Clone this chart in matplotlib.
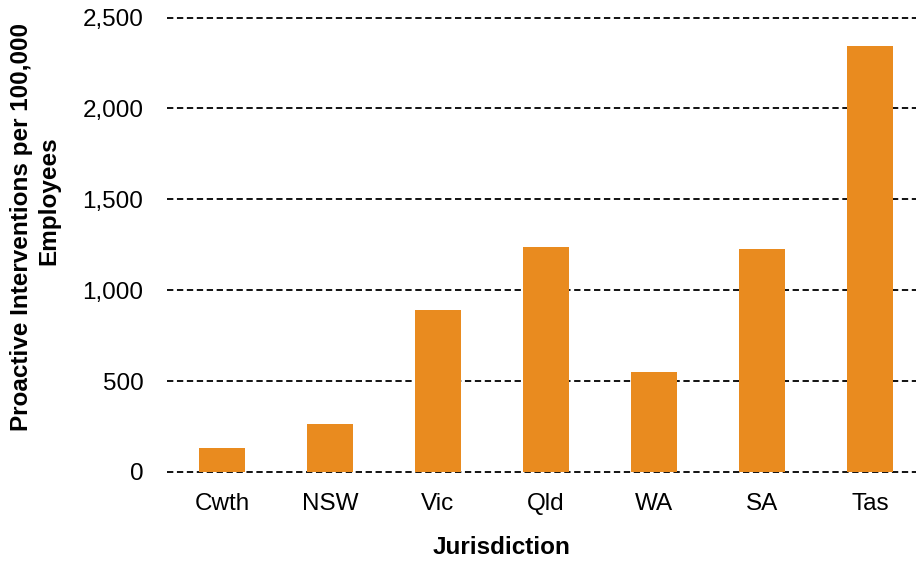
import matplotlib
matplotlib.use('Agg')
import matplotlib.pyplot as plt

# 数据
jurisdictions = ['Cwth', 'NSW', 'Vic', 'Qld', 'WA', 'SA', 'Tas']
interventions = [134, 264, 890, 1238, 549, 1228, 2346]
yticks = [0, 500, 1000, 1500, 2000, 2500]

plt.rcParams['font.family'] = ['Liberation Sans', 'DejaVu Sans']

fig = plt.figure(figsize=(9.16, 5.61), dpi=100)
ax = fig.add_axes([0.1823, 0.1538, 0.8177, 0.8198])

x = range(len(jurisdictions))
ax.bar(x, interventions, width=0.42, color='#E98B1F', zorder=3)

ax.set_ylim(-15, 2515)
ax.set_xlim(-0.509, 6.426)
ax.set_yticks(yticks)
ax.set_yticklabels([f'{v:,}' for v in yticks], fontsize=17.5)
ax.set_xticks(list(x))
ax.set_xticklabels(jurisdictions, fontsize=17.5)
ax.tick_params(axis='y', length=0, pad=17)
ax.tick_params(axis='x', length=0, pad=13)

# 虚线网格
ax.yaxis.grid(True, color='black', linestyle=(0, (3.5, 2)), linewidth=1.3, zorder=1)
for s in ax.spines.values():
    s.set_visible(False)

# 标签
fig.text(22 / 916, 1 - 227 / 561, 'Proactive Interventions per 100,000',
         rotation=90, ha='center', va='center', fontsize=17.5, fontweight='bold')
fig.text(49 / 916, 1 - 201 / 561, 'Employees',
         rotation=90, ha='center', va='center', fontsize=17.5, fontweight='bold')
fig.text(502 / 916, 1 - 547 / 561, 'Jurisdiction', ha='center', va='center',
         fontsize=17.5, fontweight='bold')

fig.savefig('out.png', dpi=100)
